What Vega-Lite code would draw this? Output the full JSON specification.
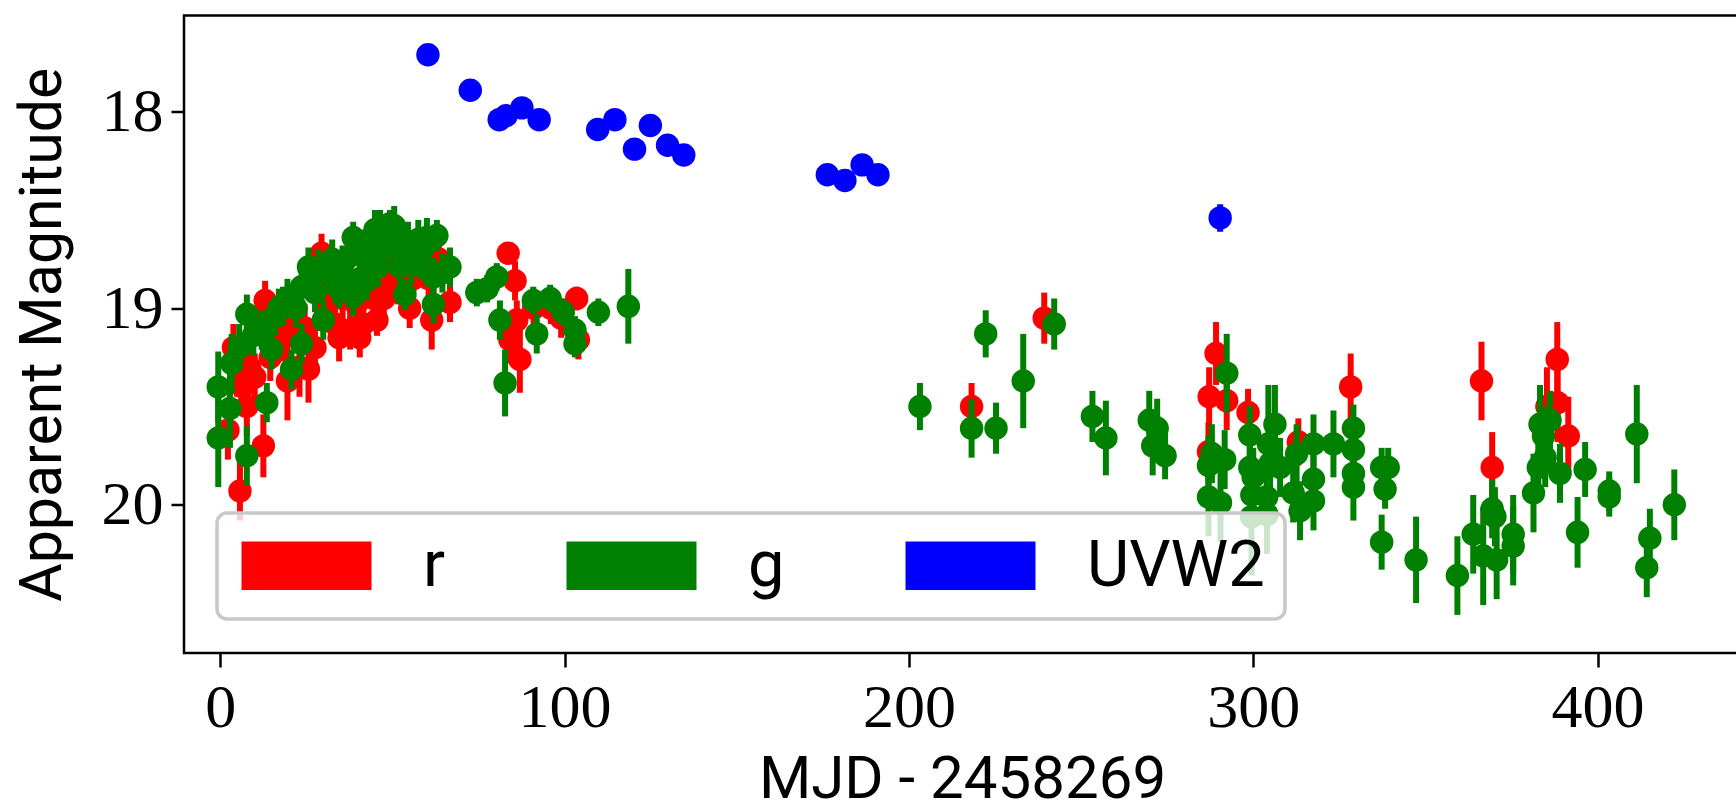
{
  "$schema": "https://vega.github.io/schema/vega-lite/v6.json",
  "autosize": {"type": "none"},
  "padding": {"left": 184, "top": 15.5, "right": -4, "bottom": 152},
  "width": 1556,
  "height": 637.5,
  "background": "white",
  "config": {
    "view": {"stroke": "black", "strokeWidth": 2.5},
    "axis": {"grid": false, "domain": false, "labelFont": "Liberation Serif", "labelFontSize": 62, "labelColor": "black",
      "tickWidth": 2.5, "tickColor": "black", "titleFont": "Roboto", "titleFontWeight": "normal", "titleColor": "black"},
    "axisX": {"labelPadding": 10, "tickSize": 14, "titleFontSize": 60, "titlePadding": 12},
    "axisY": {"labelPadding": 8, "tickSize": 13, "titleFontSize": 59, "titlePadding": 29},
    "legend": {"strokeWidth": 3.5}
  },
  "data": {
    "values": [
      {"band": "r", "t": 2.2, "mag": 19.62, "err": 0.15},
      {"band": "r", "t": 3.8, "mag": 19.2, "err": 0.12},
      {"band": "r", "t": 4.8, "mag": 19.3, "err": 0.15},
      {"band": "r", "t": 5.7, "mag": 19.93, "err": 0.15},
      {"band": "r", "t": 6.5, "mag": 19.4, "err": 0.15},
      {"band": "r", "t": 7.7, "mag": 19.5, "err": 0.15},
      {"band": "r", "t": 8.5, "mag": 19.3, "err": 0.12},
      {"band": "r", "t": 10.0, "mag": 19.35, "err": 0.12},
      {"band": "r", "t": 11.0, "mag": 19.05, "err": 0.1},
      {"band": "r", "t": 12.5, "mag": 19.7, "err": 0.16},
      {"band": "r", "t": 13.0, "mag": 18.96, "err": 0.1},
      {"band": "r", "t": 14.5, "mag": 19.25, "err": 0.12},
      {"band": "r", "t": 16.5, "mag": 19.1, "err": 0.1},
      {"band": "r", "t": 18.0, "mag": 19.15, "err": 0.12},
      {"band": "r", "t": 19.5, "mag": 19.37, "err": 0.2},
      {"band": "r", "t": 21.0, "mag": 19.05, "err": 0.1},
      {"band": "r", "t": 23.0, "mag": 19.3, "err": 0.15},
      {"band": "r", "t": 24.5, "mag": 19.1, "err": 0.12},
      {"band": "r", "t": 25.6, "mag": 19.31, "err": 0.17},
      {"band": "r", "t": 27.5, "mag": 19.2, "err": 0.12},
      {"band": "r", "t": 29.4, "mag": 18.72, "err": 0.1},
      {"band": "r", "t": 30.5, "mag": 19.0, "err": 0.12},
      {"band": "r", "t": 31.5, "mag": 18.9, "err": 0.12},
      {"band": "r", "t": 33.3, "mag": 19.08, "err": 0.1},
      {"band": "r", "t": 34.5, "mag": 19.15, "err": 0.12},
      {"band": "r", "t": 35.5, "mag": 18.95, "err": 0.12},
      {"band": "r", "t": 37.7, "mag": 19.11, "err": 0.1},
      {"band": "r", "t": 39.5, "mag": 18.98, "err": 0.12},
      {"band": "r", "t": 40.5, "mag": 19.15, "err": 0.1},
      {"band": "r", "t": 41.5, "mag": 19.08, "err": 0.08},
      {"band": "r", "t": 43.5, "mag": 18.85, "err": 0.1},
      {"band": "r", "t": 44.5, "mag": 18.95, "err": 0.1},
      {"band": "r", "t": 45.5, "mag": 19.06, "err": 0.08},
      {"band": "r", "t": 47.5, "mag": 18.95, "err": 0.1},
      {"band": "r", "t": 48.5, "mag": 18.9, "err": 0.1},
      {"band": "r", "t": 49.5, "mag": 18.8, "err": 0.1},
      {"band": "r", "t": 51.5, "mag": 18.9, "err": 0.08},
      {"band": "r", "t": 52.5, "mag": 18.82, "err": 0.1},
      {"band": "r", "t": 53.6, "mag": 18.9, "err": 0.08},
      {"band": "r", "t": 55.0, "mag": 19.0, "err": 0.1},
      {"band": "r", "t": 56.0, "mag": 18.85, "err": 0.1},
      {"band": "r", "t": 57.5, "mag": 18.75, "err": 0.08},
      {"band": "r", "t": 58.5, "mag": 18.8, "err": 0.08},
      {"band": "r", "t": 60.5, "mag": 18.85, "err": 0.1},
      {"band": "r", "t": 61.4, "mag": 19.06, "err": 0.15},
      {"band": "r", "t": 63.5, "mag": 18.75, "err": 0.08},
      {"band": "r", "t": 66.7, "mag": 18.97, "err": 0.1},
      {"band": "r", "t": 83.6, "mag": 18.72, "err": 0.05},
      {"band": "r", "t": 84.1, "mag": 19.16, "err": 0.12},
      {"band": "r", "t": 85.6, "mag": 18.86, "err": 0.1},
      {"band": "r", "t": 86.1, "mag": 19.06, "err": 0.1},
      {"band": "r", "t": 87.0, "mag": 19.26, "err": 0.17},
      {"band": "r", "t": 91.0, "mag": 19.0, "err": 0.1},
      {"band": "r", "t": 96.0, "mag": 19.0, "err": 0.08},
      {"band": "r", "t": 99.0, "mag": 19.05, "err": 0.1},
      {"band": "r", "t": 103.5, "mag": 18.95, "err": 0.06},
      {"band": "r", "t": 104.0, "mag": 19.16, "err": 0.1},
      {"band": "r", "t": 218.2, "mag": 19.5, "err": 0.12},
      {"band": "r", "t": 239.3, "mag": 19.05, "err": 0.13},
      {"band": "r", "t": 287.0, "mag": 19.73, "err": 0.15},
      {"band": "r", "t": 287.2, "mag": 19.45, "err": 0.15},
      {"band": "r", "t": 289.2, "mag": 19.23, "err": 0.16},
      {"band": "r", "t": 292.3, "mag": 19.47, "err": 0.15},
      {"band": "r", "t": 298.5, "mag": 19.53, "err": 0.12},
      {"band": "r", "t": 313.1, "mag": 19.68, "err": 0.12},
      {"band": "r", "t": 328.3, "mag": 19.4, "err": 0.17},
      {"band": "r", "t": 366.3, "mag": 19.37, "err": 0.2},
      {"band": "r", "t": 369.4, "mag": 19.81, "err": 0.18},
      {"band": "r", "t": 385.3, "mag": 19.5, "err": 0.2},
      {"band": "r", "t": 388.4, "mag": 19.48, "err": 0.2},
      {"band": "r", "t": 388.3, "mag": 19.26, "err": 0.19},
      {"band": "r", "t": 391.5, "mag": 19.65, "err": 0.2},
      {"band": "g", "t": -0.6, "mag": 19.4, "err": 0.18},
      {"band": "g", "t": -0.6, "mag": 19.66, "err": 0.25},
      {"band": "g", "t": 2.8, "mag": 19.51, "err": 0.2},
      {"band": "g", "t": 3.3, "mag": 19.28, "err": 0.15},
      {"band": "g", "t": 5.5, "mag": 19.2, "err": 0.12},
      {"band": "g", "t": 7.7, "mag": 19.75, "err": 0.15},
      {"band": "g", "t": 7.7, "mag": 19.03, "err": 0.1},
      {"band": "g", "t": 9.6, "mag": 19.14, "err": 0.1},
      {"band": "g", "t": 12.0, "mag": 19.11, "err": 0.1},
      {"band": "g", "t": 13.5, "mag": 19.48, "err": 0.1},
      {"band": "g", "t": 14.9, "mag": 19.21, "err": 0.1},
      {"band": "g", "t": 15.9, "mag": 19.04, "err": 0.1},
      {"band": "g", "t": 17.0, "mag": 19.0, "err": 0.1},
      {"band": "g", "t": 18.2, "mag": 18.99, "err": 0.1},
      {"band": "g", "t": 19.5, "mag": 18.95, "err": 0.1},
      {"band": "g", "t": 20.7, "mag": 19.31, "err": 0.1},
      {"band": "g", "t": 22.0, "mag": 19.0, "err": 0.1},
      {"band": "g", "t": 23.6, "mag": 18.89, "err": 0.1},
      {"band": "g", "t": 23.6, "mag": 19.18, "err": 0.1},
      {"band": "g", "t": 25.6, "mag": 18.79, "err": 0.1},
      {"band": "g", "t": 26.5, "mag": 18.85, "err": 0.1},
      {"band": "g", "t": 27.5, "mag": 18.92, "err": 0.1},
      {"band": "g", "t": 28.5, "mag": 18.8, "err": 0.1},
      {"band": "g", "t": 29.9, "mag": 19.06, "err": 0.1},
      {"band": "g", "t": 31.5, "mag": 18.82, "err": 0.1},
      {"band": "g", "t": 32.5, "mag": 18.75, "err": 0.1},
      {"band": "g", "t": 33.5, "mag": 18.88, "err": 0.1},
      {"band": "g", "t": 34.5, "mag": 18.9, "err": 0.1},
      {"band": "g", "t": 35.5, "mag": 18.78, "err": 0.1},
      {"band": "g", "t": 36.5, "mag": 18.85, "err": 0.1},
      {"band": "g", "t": 37.2, "mag": 18.74, "err": 0.1},
      {"band": "g", "t": 38.6, "mag": 18.64, "err": 0.08},
      {"band": "g", "t": 38.6, "mag": 18.94, "err": 0.1},
      {"band": "g", "t": 40.5, "mag": 18.85, "err": 0.1},
      {"band": "g", "t": 41.5, "mag": 18.7, "err": 0.1},
      {"band": "g", "t": 42.5, "mag": 18.86, "err": 0.1},
      {"band": "g", "t": 43.5, "mag": 18.72, "err": 0.1},
      {"band": "g", "t": 44.9, "mag": 18.6, "err": 0.1},
      {"band": "g", "t": 45.8, "mag": 18.79, "err": 0.1},
      {"band": "g", "t": 46.4, "mag": 18.6, "err": 0.1},
      {"band": "g", "t": 47.0, "mag": 18.65, "err": 0.1},
      {"band": "g", "t": 48.0, "mag": 18.7, "err": 0.1},
      {"band": "g", "t": 49.3, "mag": 18.57, "err": 0.07},
      {"band": "g", "t": 50.5, "mag": 18.58, "err": 0.1},
      {"band": "g", "t": 51.0, "mag": 18.65, "err": 0.1},
      {"band": "g", "t": 52.2, "mag": 18.79, "err": 0.1},
      {"band": "g", "t": 53.6, "mag": 18.93, "err": 0.08},
      {"band": "g", "t": 54.5, "mag": 18.66, "err": 0.1},
      {"band": "g", "t": 55.5, "mag": 18.78, "err": 0.1},
      {"band": "g", "t": 56.0, "mag": 18.72, "err": 0.1},
      {"band": "g", "t": 57.5, "mag": 18.65, "err": 0.1},
      {"band": "g", "t": 58.0, "mag": 18.75, "err": 0.1},
      {"band": "g", "t": 59.0, "mag": 18.69, "err": 0.1},
      {"band": "g", "t": 60.0, "mag": 18.64, "err": 0.1},
      {"band": "g", "t": 61.9, "mag": 18.84, "err": 0.1},
      {"band": "g", "t": 61.9, "mag": 18.98, "err": 0.1},
      {"band": "g", "t": 62.9, "mag": 18.63, "err": 0.08},
      {"band": "g", "t": 64.5, "mag": 18.82, "err": 0.1},
      {"band": "g", "t": 66.7, "mag": 18.79, "err": 0.1},
      {"band": "g", "t": 74.5, "mag": 18.92, "err": 0.07},
      {"band": "g", "t": 77.5, "mag": 18.9, "err": 0.07},
      {"band": "g", "t": 80.3, "mag": 18.84, "err": 0.07},
      {"band": "g", "t": 81.2, "mag": 19.06, "err": 0.1},
      {"band": "g", "t": 82.7, "mag": 19.38, "err": 0.17},
      {"band": "g", "t": 90.9, "mag": 18.96, "err": 0.07},
      {"band": "g", "t": 91.9, "mag": 19.13, "err": 0.1},
      {"band": "g", "t": 95.8, "mag": 18.95, "err": 0.07},
      {"band": "g", "t": 99.6, "mag": 19.02, "err": 0.07},
      {"band": "g", "t": 103.0, "mag": 19.11, "err": 0.07},
      {"band": "g", "t": 103.0, "mag": 19.18, "err": 0.07},
      {"band": "g", "t": 109.8, "mag": 19.02, "err": 0.07},
      {"band": "g", "t": 118.5, "mag": 18.99, "err": 0.19},
      {"band": "g", "t": 203.2, "mag": 19.5, "err": 0.12},
      {"band": "g", "t": 218.2, "mag": 19.61, "err": 0.15},
      {"band": "g", "t": 222.3, "mag": 19.13, "err": 0.12},
      {"band": "g", "t": 225.3, "mag": 19.61, "err": 0.13},
      {"band": "g", "t": 233.2, "mag": 19.37, "err": 0.24},
      {"band": "g", "t": 242.2, "mag": 19.08, "err": 0.13},
      {"band": "g", "t": 253.3, "mag": 19.55, "err": 0.13},
      {"band": "g", "t": 257.2, "mag": 19.66, "err": 0.19},
      {"band": "g", "t": 269.8, "mag": 19.57, "err": 0.15},
      {"band": "g", "t": 272.1, "mag": 19.61, "err": 0.15},
      {"band": "g", "t": 270.8, "mag": 19.7, "err": 0.15},
      {"band": "g", "t": 274.4, "mag": 19.75, "err": 0.12},
      {"band": "g", "t": 287.0, "mag": 19.8, "err": 0.15},
      {"band": "g", "t": 287.0, "mag": 19.96, "err": 0.2},
      {"band": "g", "t": 288.0, "mag": 19.74, "err": 0.15},
      {"band": "g", "t": 290.5, "mag": 19.99, "err": 0.2},
      {"band": "g", "t": 291.7, "mag": 19.77, "err": 0.15},
      {"band": "g", "t": 292.3, "mag": 19.33, "err": 0.2},
      {"band": "g", "t": 299.0, "mag": 19.645, "err": 0.15},
      {"band": "g", "t": 299.0, "mag": 19.81, "err": 0.15},
      {"band": "g", "t": 300.0, "mag": 19.86, "err": 0.15},
      {"band": "g", "t": 299.6, "mag": 19.95, "err": 0.15},
      {"band": "g", "t": 299.5, "mag": 20.06, "err": 0.3},
      {"band": "g", "t": 303.9, "mag": 19.96, "err": 0.15},
      {"band": "g", "t": 304.0, "mag": 20.05, "err": 0.2},
      {"band": "g", "t": 304.4, "mag": 19.69, "err": 0.3},
      {"band": "g", "t": 304.9, "mag": 19.79, "err": 0.15},
      {"band": "g", "t": 306.3, "mag": 19.59, "err": 0.2},
      {"band": "g", "t": 307.8, "mag": 19.81, "err": 0.15},
      {"band": "g", "t": 311.6, "mag": 19.94, "err": 0.15},
      {"band": "g", "t": 312.6, "mag": 19.74, "err": 0.15},
      {"band": "g", "t": 313.6, "mag": 20.03, "err": 0.15},
      {"band": "g", "t": 317.5, "mag": 19.69, "err": 0.15},
      {"band": "g", "t": 317.5, "mag": 19.87, "err": 0.15},
      {"band": "g", "t": 317.5, "mag": 19.98, "err": 0.15},
      {"band": "g", "t": 323.3, "mag": 19.69, "err": 0.17},
      {"band": "g", "t": 329.1, "mag": 19.61, "err": 0.12},
      {"band": "g", "t": 329.1, "mag": 19.72, "err": 0.12},
      {"band": "g", "t": 329.1, "mag": 19.84, "err": 0.12},
      {"band": "g", "t": 329.1, "mag": 19.91, "err": 0.17},
      {"band": "g", "t": 337.3, "mag": 19.81, "err": 0.1},
      {"band": "g", "t": 339.2, "mag": 19.81, "err": 0.1},
      {"band": "g", "t": 338.3, "mag": 19.92, "err": 0.1},
      {"band": "g", "t": 337.3, "mag": 20.19, "err": 0.14},
      {"band": "g", "t": 347.3, "mag": 20.28, "err": 0.22},
      {"band": "g", "t": 359.3, "mag": 20.36, "err": 0.2},
      {"band": "g", "t": 363.9, "mag": 20.15, "err": 0.2},
      {"band": "g", "t": 366.8, "mag": 20.26, "err": 0.25},
      {"band": "g", "t": 369.4, "mag": 20.02, "err": 0.15},
      {"band": "g", "t": 370.2, "mag": 20.06, "err": 0.15},
      {"band": "g", "t": 370.7, "mag": 20.28, "err": 0.2},
      {"band": "g", "t": 375.5, "mag": 20.15, "err": 0.2},
      {"band": "g", "t": 375.5, "mag": 20.21, "err": 0.2},
      {"band": "g", "t": 381.4, "mag": 19.94, "err": 0.2},
      {"band": "g", "t": 383.3, "mag": 19.59, "err": 0.2},
      {"band": "g", "t": 384.3, "mag": 19.65, "err": 0.15},
      {"band": "g", "t": 386.2, "mag": 19.57, "err": 0.15},
      {"band": "g", "t": 382.8, "mag": 19.81, "err": 0.15},
      {"band": "g", "t": 384.8, "mag": 19.76, "err": 0.15},
      {"band": "g", "t": 389.1, "mag": 19.84, "err": 0.15},
      {"band": "g", "t": 394.2, "mag": 20.14, "err": 0.18},
      {"band": "g", "t": 396.4, "mag": 19.82, "err": 0.14},
      {"band": "g", "t": 403.4, "mag": 19.93, "err": 0.1},
      {"band": "g", "t": 403.4, "mag": 19.96, "err": 0.1},
      {"band": "g", "t": 411.4, "mag": 19.64, "err": 0.25},
      {"band": "g", "t": 414.3, "mag": 20.32, "err": 0.15},
      {"band": "g", "t": 415.2, "mag": 20.17, "err": 0.15},
      {"band": "g", "t": 422.3, "mag": 20.0, "err": 0.18},
      {"band": "UVW2", "t": 60.3, "mag": 17.71, "err": 0.02},
      {"band": "UVW2", "t": 72.6, "mag": 17.89, "err": 0.02},
      {"band": "UVW2", "t": 81.0, "mag": 18.04, "err": 0.02},
      {"band": "UVW2", "t": 83.0, "mag": 18.02, "err": 0.02},
      {"band": "UVW2", "t": 87.6, "mag": 17.98, "err": 0.02},
      {"band": "UVW2", "t": 92.6, "mag": 18.04, "err": 0.02},
      {"band": "UVW2", "t": 109.6, "mag": 18.09, "err": 0.02},
      {"band": "UVW2", "t": 114.6, "mag": 18.04, "err": 0.05},
      {"band": "UVW2", "t": 124.9, "mag": 18.07, "err": 0.02},
      {"band": "UVW2", "t": 120.3, "mag": 18.19, "err": 0.02},
      {"band": "UVW2", "t": 129.9, "mag": 18.17, "err": 0.02},
      {"band": "UVW2", "t": 134.6, "mag": 18.22, "err": 0.02},
      {"band": "UVW2", "t": 176.3, "mag": 18.32, "err": 0.02},
      {"band": "UVW2", "t": 181.4, "mag": 18.35, "err": 0.02},
      {"band": "UVW2", "t": 186.4, "mag": 18.27, "err": 0.02},
      {"band": "UVW2", "t": 191.0, "mag": 18.32, "err": 0.02},
      {"band": "UVW2", "t": 290.4, "mag": 18.54, "err": 0.07}
    ]
  },
  "layer": [
    {
      "transform": [{"filter": "datum.band == 'r'"}],
      "mark": {"type": "errorbar", "thickness": 6, "color": "#ff0000", "clip": true},
      "encoding": {
        "x": {"field": "t", "type": "quantitative", "title": "MJD - 2458269", "scale": {"domain": [-10.55, 441.38], "nice": false, "zero": false}, "axis": {"values": [0, 100, 200, 300, 400]}},
        "y": {"field": "mag", "type": "quantitative", "title": "Apparent Magnitude", "scale": {"domain": [17.51, 20.754], "reverse": true, "nice": false, "zero": false}, "axis": {"values": [18, 19, 20]}},
        "yError": {"field": "err"}
      }
    },
    {
      "transform": [{"filter": "datum.band == 'r'"}],
      "mark": {"type": "circle", "size": 550, "opacity": 1, "clip": true},
      "encoding": {
        "x": {"field": "t", "type": "quantitative", "title": "MJD - 2458269", "axis": {"values": [0, 100, 200, 300, 400]}},
        "y": {"field": "mag", "type": "quantitative", "title": "Apparent Magnitude", "axis": {"values": [18, 19, 20]}},
        "color": {"field": "band", "type": "nominal",
          "scale": {"domain": ["r", "g", "UVW2"], "range": ["#ff0000", "#008000", "#0000ff"]},
          "legend": {"title": null, "orient": "none", "legendX": 33, "legendY": 497.5, "direction": "horizontal", "columns": 3,
            "symbolType": "M-4,-1.5H4V1.5H-4Z", "symbolSize": 1056, "symbolOffset": 37, "symbolStrokeWidth": 0, "symbolOpacity": 1,
            "labelOffset": 84, "labelFont": "Roboto", "labelFontSize": 65, "labelColor": "black", "labelLimit": 400,
            "columnPadding": 116, "padding": 20, "cornerRadius": 10,
            "fillColor": "rgba(255,255,255,0.8)", "strokeColor": "#c8c8c8"}}
      }
    },
    {
      "transform": [{"filter": "datum.band == 'g'"}],
      "mark": {"type": "errorbar", "thickness": 6, "color": "#008000", "clip": true},
      "encoding": {
        "x": {"field": "t", "type": "quantitative", "title": "MJD - 2458269", "axis": {"values": [0, 100, 200, 300, 400]}},
        "y": {"field": "mag", "type": "quantitative", "title": "Apparent Magnitude", "axis": {"values": [18, 19, 20]}},
        "yError": {"field": "err"}
      }
    },
    {
      "transform": [{"filter": "datum.band == 'g'"}],
      "mark": {"type": "circle", "size": 550, "opacity": 1, "clip": true},
      "encoding": {
        "x": {"field": "t", "type": "quantitative", "title": "MJD - 2458269", "axis": {"values": [0, 100, 200, 300, 400]}},
        "y": {"field": "mag", "type": "quantitative", "title": "Apparent Magnitude", "axis": {"values": [18, 19, 20]}},
        "color": {"field": "band", "type": "nominal"}
      }
    },
    {
      "transform": [{"filter": "datum.band == 'UVW2'"}],
      "mark": {"type": "errorbar", "thickness": 6, "color": "#0000ff", "clip": true},
      "encoding": {
        "x": {"field": "t", "type": "quantitative", "title": "MJD - 2458269", "axis": {"values": [0, 100, 200, 300, 400]}},
        "y": {"field": "mag", "type": "quantitative", "title": "Apparent Magnitude", "axis": {"values": [18, 19, 20]}},
        "yError": {"field": "err"}
      }
    },
    {
      "transform": [{"filter": "datum.band == 'UVW2'"}],
      "mark": {"type": "circle", "size": 550, "opacity": 1, "clip": true},
      "encoding": {
        "x": {"field": "t", "type": "quantitative", "title": "MJD - 2458269", "axis": {"values": [0, 100, 200, 300, 400]}},
        "y": {"field": "mag", "type": "quantitative", "title": "Apparent Magnitude", "axis": {"values": [18, 19, 20]}},
        "color": {"field": "band", "type": "nominal"}
      }
    }
  ]
}
